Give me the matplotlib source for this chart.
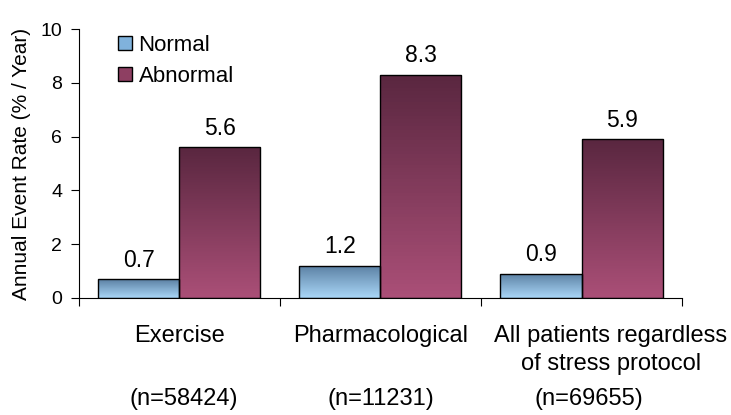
import matplotlib.pyplot as plt
import matplotlib.transforms as mtransforms
import matplotlib.colors as mcolors
import numpy as np

plt.rcParams['font.family'] = ['Liberation Sans', 'DejaVu Sans']

categories = ['Exercise', 'Pharmacological', 'All patients regardless\nof stress protocol']
counts = ['(n=58424)', '(n=11231)', '(n=69655)']
normal = [0.7, 1.2, 0.9]
abnormal = [5.6, 8.3, 5.9]


def gradient_bar(ax, x, height, width, top_color, bottom_color):
    rect = plt.Rectangle((x, 0), width, height, facecolor='none',
                         edgecolor='black', linewidth=1.0, zorder=3)
    ax.add_patch(rect)
    top = np.array(mcolors.to_rgb(top_color))
    bot = np.array(mcolors.to_rgb(bottom_color))
    t = np.linspace(0, 1, 64)[:, None]
    img = (top * (1 - t) + bot * t)[:, None, :]
    im = ax.imshow(img, extent=(x, x + width, 0, height), aspect='auto',
                   origin='upper', zorder=2)
    im.set_clip_path(rect)


fig = plt.figure(figsize=(7.31, 4.15), dpi=100)
ax = fig.add_axes([0.108, 0.282, 0.825, 0.648])

w = 0.403
x = np.arange(len(categories))
for i in range(len(categories)):
    gradient_bar(ax, x[i] - w, normal[i], w, '#5b80a3', '#a9d6f7')
    gradient_bar(ax, x[i], abnormal[i], w, '#5a2740', '#aa4f77')
    ax.annotate(f'{normal[i]:.1f}', (x[i] - w / 2, normal[i]),
                xytext=(0, 9), textcoords='offset points',
                ha='center', va='baseline', fontsize=16.5)
    ax.annotate(f'{abnormal[i]:.1f}', (x[i] + w / 2, abnormal[i]),
                xytext=(0, 9), textcoords='offset points',
                ha='center', va='baseline', fontsize=16.5)

ax.set_xlim(-0.5, len(categories) - 0.5)
ax.set_ylim(0, 10)
ax.set_yticks([0, 2, 4, 6, 8, 10])
ax.tick_params(axis='y', labelsize=14, length=6, direction='out', pad=6)

# boundaries get tick marks, labels sit at the group centres
ax.set_xticks(np.arange(len(categories) + 1) - 0.5)
ax.set_xticklabels([])
ax.tick_params(axis='x', length=6, direction='out')

trans = mtransforms.blended_transform_factory(ax.transData, fig.transFigure)
# the long last label is nudged right so it clears "Pharmacological"
name_shift = [0, 0, 0.145]
count_shift = [0.02, 0, 0.035]
for i in range(len(categories)):
    lines = categories[i].split('\n')
    for j, line in enumerate(lines):
        ax.text(x[i] + name_shift[i], 1 - (342 + 28 * j) / 415, line,
                transform=trans, ha='center', va='baseline', fontsize=17)
    ax.text(x[i] + count_shift[i], 1 - 405 / 415, counts[i], transform=trans,
            ha='center', va='baseline', fontsize=17)

ax.spines['top'].set_visible(False)
ax.spines['right'].set_visible(False)
ax.set_ylabel('Annual Event Rate (% / Year)', fontsize=15, labelpad=7)

handles = [plt.Rectangle((0, 0), 1, 1, facecolor='#80b2dc', edgecolor='black'),
           plt.Rectangle((0, 0), 1, 1, facecolor='#8e3f62', edgecolor='black')]
ax.legend(handles, ['Normal', 'Abnormal'], loc='upper left',
          bbox_to_anchor=(0.035, 1.045), frameon=False, fontsize=16,
          handlelength=0.63, handleheight=0.63, handletextpad=0.3,
          labelspacing=0.45, borderpad=0.3)

fig.savefig('out.png', dpi=100)
